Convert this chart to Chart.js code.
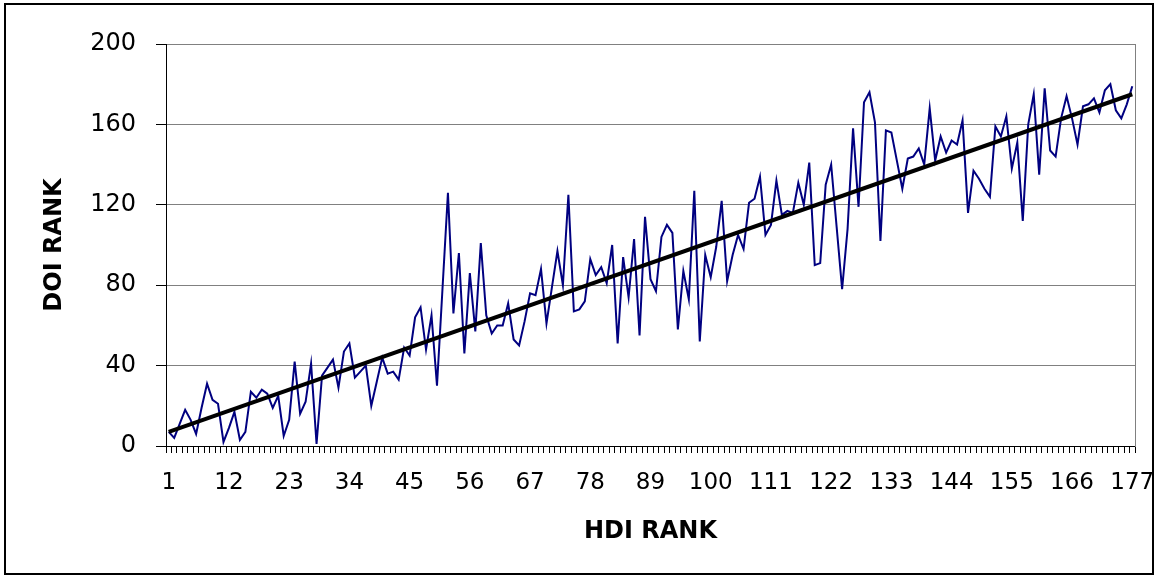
<!DOCTYPE html>
<html>
<head>
<meta charset="utf-8">
<script src="https://cdn.jsdelivr.net/npm/chart.js@4.4.1/dist/chart.umd.min.js"></script>
<style>
  html, body { margin: 0; padding: 0; background: #fff; }
  #wrap { width: 1157px; height: 576px; }
</style>
</head>
<body>
<div id="wrap"><canvas id="chart" width="1157" height="576"></canvas></div>
<script>
// HDI rank 1..177 on the x axis
const hdiRank = Array.from({ length: 177 }, (_, i) => String(i + 1));

// DOI rank, one row per 11 countries
const doiRank = [
  7, 4, 11, 18, 13, 6, 19, 31, 23, 21, 2,
  9, 17, 3, 7, 27, 24, 28, 26, 19, 25, 5,
  13, 42, 16, 22, 41, 1, 35, 39, 43, 29, 47,
  51, 34, 37, 40, 20, 32, 44, 36, 37, 33, 49,
  45, 64, 69, 48, 65, 30, 78, 126, 66, 96, 46,
  86, 57, 101, 65, 56, 60, 60, 71, 53, 50, 62,
  76, 75, 88, 61, 79, 97, 80, 125, 67, 68, 72,
  93, 85, 89, 81, 100, 51, 94, 74, 103, 55, 114,
  83, 77, 104, 110, 106, 58, 87, 73, 127, 52, 95,
  84, 99, 122, 82, 95, 105, 98, 121, 123, 134, 105,
  110, 132, 115, 117, 116, 131, 120, 141, 90, 91, 130,
  140, 109, 78, 108, 158, 119, 171, 176, 161, 102, 157,
  156, 142, 128, 143, 144, 148, 140, 168, 142, 154, 146,
  152, 150, 162, 116, 137, 133, 128, 124, 159, 154, 164,
  138, 151, 112, 160, 175, 135, 178, 147, 144, 163, 174,
  163, 150, 169, 170, 173, 166, 177, 180, 167, 163, 170,
  179
];

// straight trend line, value at rank 1 and at rank 177
const trendStart = 7;
const trendEnd = 175;

const xTickLabels = ['1', '12', '23', '34', '45', '56', '67', '78', '89', '100',
  '111', '122', '133', '144', '155', '166', '177'];
const yMin = 0, yMax = 200, yStep = 40;

Chart.defaults.font.family = 'DejaVu Sans';
Chart.defaults.color = '#000';

const frame = {
  id: 'frame',
  afterDraw(chart) {
    const ctx = chart.ctx;
    ctx.save();
    ctx.strokeStyle = '#000';
    ctx.lineWidth = 2;
    ctx.strokeRect(5, 4, 1148, 570);
    ctx.restore();
  }
};

new Chart(document.getElementById('chart'), {
  type: 'line',
  data: {
    labels: hdiRank,
    datasets: [
      {
        data: [{ x: hdiRank[0], y: trendStart }, { x: hdiRank[hdiRank.length - 1], y: trendEnd }],
        borderColor: '#000',
        borderWidth: 4,
        pointRadius: 0,
        tension: 0,
        fill: false
      },
      {
        data: doiRank,
        borderColor: '#000080',
        borderWidth: 2,
        pointRadius: 0,
        tension: 0,
        fill: false
      }
    ]
  },
  options: {
    responsive: false,
    devicePixelRatio: 1,
    animation: false,
    layout: { padding: { left: 0, top: 44, right: 22, bottom: 0 } },
    plugins: { legend: { display: false }, tooltip: { enabled: false } },
    scales: {
      x: {
        offset: true,
        grid: { offset: true, drawOnChartArea: false, drawTicks: true, tickLength: 7, tickColor: '#000' },
        border: { color: '#000', width: 1 },
        ticks: {
          autoSkip: false,
          maxRotation: 0,
          minRotation: 0,
          padding: 0,
          font: { size: 23, lineHeight: 2.6 },
          callback(value) {
            const lab = this.getLabelForValue(value);
            return xTickLabels.includes(lab) ? lab : '';
          }
        },
        title: { display: true, text: 'HDI RANK', font: { size: 24, weight: 'bold' }, padding: { top: 0, bottom: 30 } },
        afterFit(s) { s.height = 130; }
      },
      y: {
        min: yMin,
        max: yMax,
        grid: { color: '#808080', tickColor: '#000', tickLength: 10 },
        border: { color: '#000', width: 1 },
        ticks: { stepSize: yStep, padding: 20, font: { size: 24 } },
        title: { display: true, text: 'DOI RANK', font: { size: 24, weight: 'bold' }, padding: { top: 40, bottom: 0 } },
        afterFit(s) { s.width = 166; }
      },
      y2: {
        position: 'right',
        min: yMin,
        max: yMax,
        grid: { drawOnChartArea: false, drawTicks: false },
        border: { color: '#808080', width: 1 },
        ticks: { display: false },
        afterFit(s) { s.width = 0; }
      }
    }
  },
  plugins: [frame]
});
</script>
</body>
</html>
